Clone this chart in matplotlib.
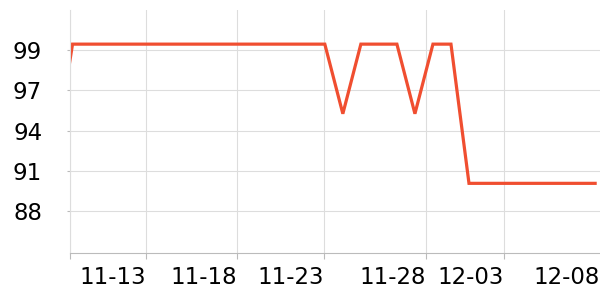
import matplotlib
matplotlib.use("Agg")
import matplotlib.pyplot as plt
import matplotlib.dates as mdates
from matplotlib.ticker import FormatStrFormatter
import pandas as pd

# daily values, 11-08 .. 12-08
dates = pd.date_range("2023-11-08", "2023-12-08", freq="D")
values = [91.9,
          99.7, 99.7, 99.7, 99.7, 99.7, 99.7, 99.7, 99.7, 99.7, 99.7,
          99.7, 99.7, 99.7, 99.7, 99.7, 94.95, 99.7, 99.7, 99.7, 94.95,
          99.7, 99.7, 90.2, 90.2, 90.2, 90.2, 90.2, 90.2, 90.2, 90.2]

xtick_dates = ["2023-11-13", "2023-11-18", "2023-11-23", "2023-11-28", "2023-12-03", "2023-12-08"]
xtick_labels = ["11-13", "11-18", "11-23", "11-28", "12-03", "12-08"]
xtick_shift = [0.06, 0.14, -0.04, 0.63, -0.04, 0.24]   # where the labels sit (days)
yticks = [88.3, 91.05, 93.8, 96.55, 99.3]

grid_c = "#dddddd"

fig = plt.figure(figsize=(6, 3), dpi=100)
ax = fig.add_axes([70 / 600, 1 - 252.5 / 300, 530 / 600, 242.5 / 300])

x = mdates.date2num(dates)
ax.plot(x, values, color="#f04e30", lw=2.3, solid_joinstyle="miter")

x0 = mdates.date2num(pd.Timestamp("2023-11-09"))
ax.set_xlim(x0 - 0.14, x0 + 29.27)
ax.set_ylim(85.48, 102.03)

pos = [mdates.date2num(pd.Timestamp(d)) + s for d, s in zip(xtick_dates, xtick_shift)]
ax.set_xticks([x0 - 0.14] + pos)
ax.set_xticklabels([""] + xtick_labels, ha="right")
ax.set_yticks(yticks)
ax.yaxis.set_major_formatter(FormatStrFormatter("%.0f"))

ax.grid(True, color=grid_c, lw=0.8)
ax.set_axisbelow(True)
for s in ["top", "right"]:
    ax.spines[s].set_visible(False)
ax.spines["left"].set_color(grid_c)
ax.spines["bottom"].set_color("#bbbbbb")
ax.tick_params(axis="x", length=4, color="#bbbbbb", labelsize=16.5, pad=6)
ax.tick_params(axis="y", length=2, color="#bbbbbb", labelsize=16.5, pad=18)

# last label sits on the edge, no grid line or tick there
ax.xaxis.get_gridlines()[-1].set_visible(False)
ax.xaxis.get_major_ticks()[-1].tick1line.set_visible(False)

fig.savefig("out.png", dpi=100)
